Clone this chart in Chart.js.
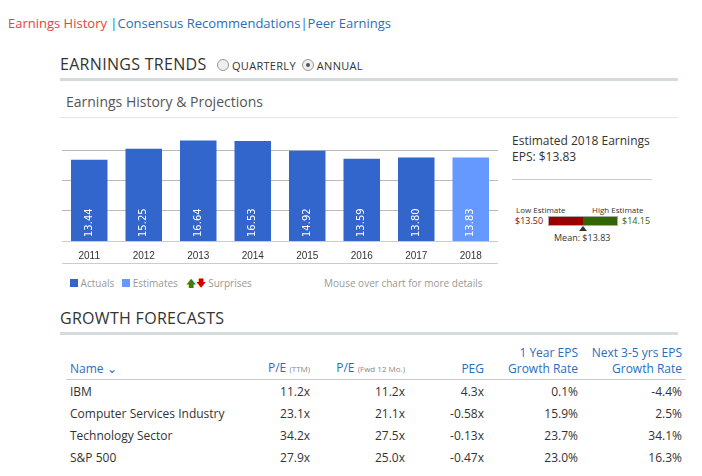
<!DOCTYPE html>
<html><head><meta charset="utf-8">
<script src="https://cdn.jsdelivr.net/npm/chart.js@4/dist/chart.umd.min.js"></script>
<style>
body{margin:0;width:702px;height:476px;background:#fff;font-family:"Open Sans",Arial,sans-serif;position:relative;overflow:hidden;color:#333}
.a{position:absolute;white-space:nowrap}
.rule{position:absolute;background:#d5dada}
.hd{font-size:16px;color:#333;letter-spacing:0.3px}
.radio{display:inline-block;width:10px;height:10px;border:1px solid #999;border-radius:50%;vertical-align:-1px;margin:0 3px 0 6px;background:#eee;position:relative}
.radio.on::after{content:"";position:absolute;left:3px;top:3px;width:4px;height:4px;border-radius:50%;background:#555}
table{position:absolute;left:66px;top:345px;width:620px;border-collapse:collapse;font-size:12px}
th{color:#2a6ebb;font-weight:normal;text-align:right;vertical-align:bottom;padding:0 4px 2px 0;line-height:16px;border-bottom:1px solid #ccc}
td{text-align:right;padding:0 4px 0 0;height:22px;color:#333}
td:first-child,th:first-child{text-align:left;padding-left:4px}
small{font-size:8px;color:#888}
</style></head><body>
<div class="a" style="left:8px;top:14px;font-size:13px"><span style="color:#e8433a">Earnings History</span><span style="color:#2a6ebb"> |Consensus Recommendations|Peer Earnings</span></div>
<div class="a hd" style="left:60px;top:53px">EARNINGS TRENDS <span class="radio"></span><span style="font-size:11px">QUARTERLY</span><span class="radio on"></span><span style="font-size:11px">ANNUAL</span></div>
<div class="rule" style="left:60px;top:78px;width:618px;height:3px"></div>
<div class="a" style="left:66px;top:92px;font-size:14px;color:#555">Earnings History &amp; Projections</div>
<div class="rule" style="left:60px;top:117px;width:618px;height:1px;background:#e6e6e6"></div>
<div style="position:absolute;left:58px;top:137px;width:440px;height:126px"><canvas id="c"></canvas></div>
<div class="rule" style="left:62px;top:263px;width:436px;height:1px;background:#ccc"></div>
<div class="a" style="left:70px;top:276px;font-size:10px;color:#999"><span style="display:inline-block;width:8px;height:8px;background:#3366cc"></span> Actuals &nbsp;&nbsp;<span style="display:inline-block;width:8px;height:8px;background:#6699ff"></span> Estimates &nbsp;&nbsp;<span style="color:#3a7d1a">&#129093;</span><span style="color:#c00">&#129095;</span> Surprises</div>
<div class="a" style="left:324px;top:276px;font-size:10px;color:#999">Mouse over chart for more details</div>
<div class="a" style="left:512px;top:132px;font-size:12px;color:#333">Estimated 2018 Earnings</div>
<div class="a" style="left:512px;top:148px;font-size:12px;color:#333">EPS: $13.83</div>
<div class="rule" style="left:512px;top:179px;width:140px;height:1px;background:#ccc"></div>
<div class="a" style="left:516px;top:204px;font-size:8px;color:#333">Low Estimate</div>
<div class="a" style="left:592px;top:204px;font-size:8px;color:#333">High Estimate</div>
<div class="a" style="left:515px;top:214px;font-size:9px;color:#990000">$13.50</div>
<div style="position:absolute;left:548px;top:216px;width:68px;height:8px;border:1px solid #aaa;background:linear-gradient(90deg,#990000 0 50%,#336600 50%)"></div>
<div class="a" style="left:622px;top:214px;font-size:9px;color:#336600">$14.15</div>
<div style="position:absolute;left:579px;top:226px;width:0;height:0;border-left:4px solid transparent;border-right:4px solid transparent;border-bottom:5px solid #333"></div>
<div class="a" style="left:554px;top:231px;font-size:9px;color:#333">Mean: $13.83</div>
<div class="a hd" style="left:60px;top:307px">GROWTH FORECASTS</div>
<div class="rule" style="left:60px;top:332px;width:618px;height:3px"></div>
<table>
<tr><th style="width:180px">Name &#8964;</th><th>P/E <small>(TTM)</small></th><th>P/E <small>(Fwd 12 Mo.)</small></th><th style="width:75px">PEG</th><th style="width:90px">1 Year EPS<br>Growth Rate</th><th style="width:100px">Next 3-5 yrs EPS<br>Growth Rate</th></tr>
<tr><td>IBM</td><td>11.2x</td><td>11.2x</td><td>4.3x</td><td>0.1%</td><td>-4.4%</td></tr>
<tr><td>Computer Services Industry</td><td>23.1x</td><td>21.1x</td><td>-0.58x</td><td>15.9%</td><td>2.5%</td></tr>
<tr><td>Technology Sector</td><td>34.2x</td><td>27.5x</td><td>-0.13x</td><td>23.7%</td><td>34.1%</td></tr>
<tr><td>S&amp;P 500</td><td>27.9x</td><td>25.0x</td><td>-0.47x</td><td>23.0%</td><td>16.3%</td></tr>
</table>
<script>
const years = ["2011","2012","2013","2014","2015","2016","2017","2018"];
const eps = [13.44, 15.25, 16.64, 16.53, 14.92, 13.59, 13.80, 13.83];
const isEstimate = [false,false,false,false,false,false,false,true];

// vertical value labels at bottom of each bar
const barLabels = {
  id: "barLabels",
  afterDatasetsDraw(chart) {
    const ctx = chart.ctx;
    const meta = chart.getDatasetMeta(0);
    ctx.save();
    ctx.fillStyle = "#fff";
    ctx.font = "10px 'DejaVu Sans', Arial";
    ctx.textBaseline = "middle";
    meta.data.forEach((bar, i) => {
      ctx.save();
      ctx.translate(bar.x, bar.base - 4);
      ctx.rotate(-Math.PI / 2);
      ctx.fillText(eps[i].toFixed(2), 0, 0);
      ctx.restore();
    });
    ctx.restore();
  }
};

new Chart(document.getElementById("c"), {
  type: "bar",
  data: {
    labels: years,
    datasets: [{
      data: eps,
      backgroundColor: isEstimate.map(e => e ? "#6699ff" : "#3366cc"),
      categoryPercentage: 1,
      barPercentage: 0.67
    }]
  },
  options: {
    responsive: true,
    maintainAspectRatio: false,
    animation: false,
    layout: { padding: { left: 4, right: 0, top: 0 } },
    plugins: { legend: { display: false }, tooltip: { enabled: false } },
    scales: {
      x: {
        grid: { display: false },
        border: { color: "#ccc" },
        ticks: { color: "#333", font: { size: 10, family: "Arial" }, padding: 1 }
      },
      y: {
        min: 0, max: 17.2,
        afterBuildTicks: ax => { ax.ticks = [5,10,15].map(v => ({ value: v })); },
        ticks: { display: false },
        border: { display: false },
        grid: { color: "#bbb", borderDash: [1, 2], drawTicks: false }
      }
    }
  },
  plugins: [barLabels]
});
</script>
</body></html>
